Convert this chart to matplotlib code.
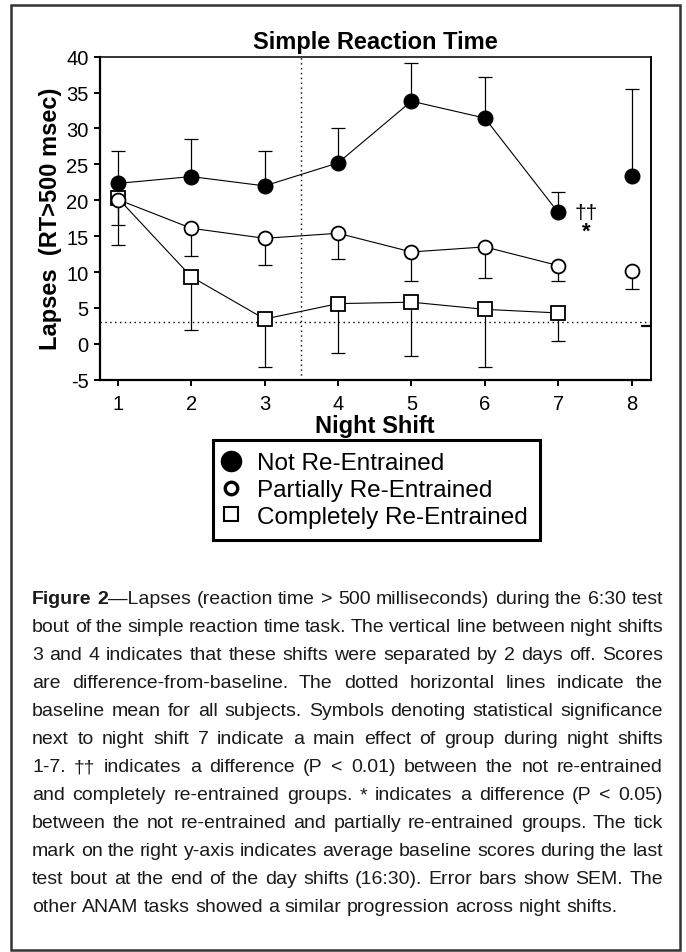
import numpy as np
import matplotlib
matplotlib.use("Agg")
import matplotlib.pyplot as plt
from matplotlib.lines import Line2D
from matplotlib.patches import Rectangle

# ── data ─────────────────────────────────────────────────
shifts = [1, 2, 3, 4, 5, 6, 7, 8]

not_reentrained = [22.35, 23.3, 22.0, 25.2, 33.8, 31.45, 18.3, 23.4]
not_reentrained_sem = [4.55, 5.2, 4.8, 4.9, 5.3, 5.75, 2.8, 12.1]

partially_reentrained = [20.1, 16.1, 14.7, 15.4, 12.8, 13.5, 10.9, 10.1]
partially_reentrained_sem = [3.5, 3.9, 3.7, 3.6, 4.0, 4.3, 2.2, 2.5]

completely_reentrained = [20.3, 9.35, 3.45, 5.6, 5.8, 4.8, 4.3, np.nan]
completely_reentrained_sem = [6.5, 7.45, 6.75, 6.85, 7.5, 8.0, 3.9, np.nan]

group_labels = ["Not Re-Entrained", "Partially Re-Entrained", "Completely Re-Entrained"]

baseline_night = 3.1        # dotted horizontal line
baseline_day_end = 2.5      # tick on right y-axis
days_off_break = 3.5        # dotted vertical line
y_ticks = [-5, 0, 5, 10, 15, 20, 25, 30, 35, 40]

caption_bold = "Figure 2"
caption_lines = [
    "Figure 2\u2014Lapses (reaction time > 500 milliseconds) during the 6:30 test",
    "bout of the simple reaction time task. The vertical line between night shifts",
    "3 and 4 indicates that these shifts were separated by 2 days off. Scores",
    "are difference-from-baseline. The dotted horizontal lines indicate the",
    "baseline mean for all subjects. Symbols denoting statistical significance",
    "next to night shift 7 indicate a main effect of group during night shifts",
    "1-7. \u2020\u2020 indicates a difference (P < 0.01) between the not re-entrained",
    "and completely re-entrained groups. * indicates a difference (P < 0.05)",
    "between the not re-entrained and partially re-entrained groups. The tick",
    "mark on the right y-axis indicates average baseline scores during the last",
    "test bout at the end of the day shifts (16:30). Error bars show SEM. The",
    "other ANAM tasks showed a similar progression across night shifts.",
]
# ─────────────────────────────────────────────────────────

plt.rcParams["font.family"] = ["Liberation Sans", "DejaVu Sans"]
plt.rcParams["axes.unicode_minus"] = False

W, H = 686, 953
fig = plt.figure(figsize=(W / 100, H / 100), dpi=100)


def px_box(left, top, right, bottom):
    return [left / W, 1 - bottom / H, (right - left) / W, (bottom - top) / H]


ax = fig.add_axes(px_box(99.5, 57.7, 650.7, 380.7))
x = np.array(shifts, dtype=float)

err_kw = dict(ecolor="black", elinewidth=0.9, capsize=5, capthick=0.9, linestyle="none")

# completely re-entrained (squares, lower error bars)
y_c = np.array(completely_reentrained)
s_c = np.array(completely_reentrained_sem)
ax.errorbar(x, y_c, yerr=[s_c, np.zeros_like(s_c)], zorder=2, **err_kw)
ax.plot(x[:7], y_c[:7], color="black", lw=0.8, zorder=3)
ax.plot(x, y_c, ls="none", marker="s", ms=10, mfc="white", mec="black", mew=1.3, zorder=4)

# partially re-entrained (open circles, lower error bars)
y_p = np.array(partially_reentrained)
s_p = np.array(partially_reentrained_sem)
ax.errorbar(x, y_p, yerr=[s_p, np.zeros_like(s_p)], zorder=2, **err_kw)
ax.plot(x[:7], y_p[:7], color="black", lw=0.8, zorder=3)
ax.plot(x, y_p, ls="none", marker="o", ms=10, mfc="white", mec="black", mew=1.3, zorder=5)

# not re-entrained (filled circles, upper error bars)
y_n = np.array(not_reentrained)
s_n = np.array(not_reentrained_sem)
ax.errorbar(x, y_n, yerr=[np.zeros_like(s_n), s_n], zorder=2, **err_kw)
ax.plot(x[:7], y_n[:7], color="black", lw=0.8, zorder=3)
ax.plot(x, y_n, ls="none", marker="o", ms=10.5, mfc="black", mec="black", zorder=6)

ax.axhline(baseline_night, color="black", lw=1.0, ls=(0, (1, 2.5)), zorder=1)
ax.axvline(days_off_break, color="black", lw=1.0, ls=(0, (1, 2.5)), zorder=1)

ax.text(7.22, not_reentrained[6], "\u2020\u2020", fontsize=15, ha="left", va="center")
ax.text(7.38, not_reentrained[6] - 2.6, "*", fontsize=16, fontweight="bold", ha="center", va="center")

ax.set_xlim(0.75, 8.26)
ax.set_ylim(-5, 40)
ax.set_xticks(shifts)
ax.set_yticks(y_ticks)
ax.tick_params(direction="out", length=4, width=1.4, labelsize=14.5, pad=4, colors="black")
ax.tick_params(axis="x", pad=6)
for side in ["left", "bottom"]:
    ax.spines[side].set_linewidth(1.6)
for side in ["top", "right"]:
    ax.spines[side].set_linewidth(1.1)

right_ax = ax.secondary_yaxis("right")
right_ax.set_yticks([baseline_day_end])
right_ax.tick_params(direction="in", length=7, width=1.6, labelright=False)
right_ax.spines["right"].set_linewidth(1.1)

ax.set_title("Simple Reaction Time", fontsize=17, fontweight="bold", pad=6)
ax.set_xlabel("Night Shift", fontsize=17, fontweight="bold", labelpad=1)
ax.set_ylabel("Lapses  (RT>500 msec)", fontsize=17, fontweight="bold", labelpad=3)

handles = [
    Line2D([], [], ls="none", marker="o", ms=14.5, mfc="black", mec="black"),
    Line2D([], [], ls="none", marker="o", ms=9, mfc="white", mec="black", mew=2.4),
    Line2D([], [], ls="none", marker="s", ms=10, mfc="white", mec="black", mew=1.5),
]
leg = fig.legend(handles, group_labels, loc="upper left",
                 bbox_to_anchor=(213 / W, 1 - 441 / H), borderaxespad=0,
                 fontsize=17.5, frameon=True, fancybox=False, framealpha=1,
                 edgecolor="black", handlelength=0.5, handletextpad=0.8,
                 borderpad=0.5, labelspacing=0.2, numpoints=1)
leg.get_frame().set_linewidth(2.2)

# outer border of the figure panel
fig.add_artist(Rectangle((11 / W, 1 - 951 / H), (680 - 11) / W, (951 - 6) / H,
                         transform=fig.transFigure, fill=False, lw=1.8, ec="#333333"))

# justified caption
renderer = fig.canvas.get_renderer()
CAPTION_FONT = "Liberation Sans"
CAP_SIZE = 14
cap_left, cap_right = 32 / W, 663 / W


def measure(t):
    return t.get_window_extent(renderer).width / W


probe_a = fig.text(0, 0, "xx", fontsize=CAP_SIZE, family=CAPTION_FONT)
probe_b = fig.text(0, 0, "x x", fontsize=CAP_SIZE, family=CAPTION_FONT)
space_w = measure(probe_b) - measure(probe_a)
probe_a.remove()
probe_b.remove()

for i, line in enumerate(caption_lines):
    y = 1 - (600 + 28 * i) / H
    n_bold = len(caption_bold) if i == 0 else 0
    words = []
    pos = 0
    for token in line.split(" "):
        segs = []
        start, end = pos, pos + len(token)
        if start < n_bold:
            cut = min(end, n_bold)
            segs.append((line[start:cut], "bold"))
            if end > cut:
                segs.append((line[cut:end], "normal"))
        else:
            segs.append((token, "normal"))
        words.append(segs)
        pos = end + 1

    word_arts = []
    total = 0.0
    for segs in words:
        arts = []
        for txt, weight in segs:
            t = fig.text(0, y, txt, fontsize=CAP_SIZE, family=CAPTION_FONT,
                         fontweight=weight, va="center", ha="left", color="#1a1a1a")
            arts.append((t, measure(t)))
        word_arts.append(arts)
        total += sum(w for _, w in arts)

    if i == len(caption_lines) - 1:
        gap = space_w
    else:
        gap = (cap_right - cap_left - total) / (len(words) - 1)

    cx = cap_left
    for arts in word_arts:
        for t, w in arts:
            t.set_x(cx)
            cx += w
        cx += gap

fig.savefig("out.png", dpi=100)
